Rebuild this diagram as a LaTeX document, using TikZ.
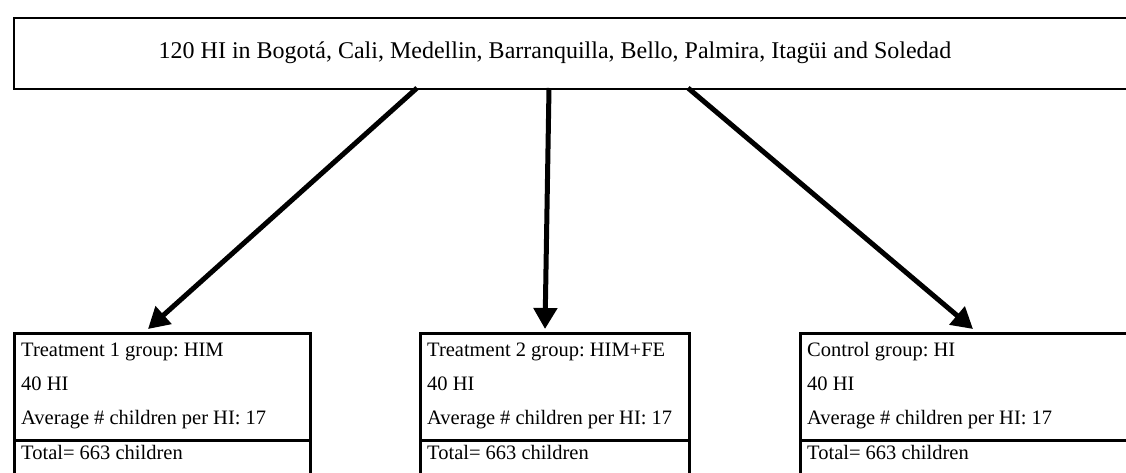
\documentclass[tikz,border=0pt]{standalone}
\usepackage{fontspec}
\setmainfont{Liberation Serif}
\usetikzlibrary{arrows.meta}
\begin{document}
\frenchspacing
\begin{tikzpicture}[x=1pt,y=-1pt,
  topbox/.style={draw=black, line width=1.6pt, rectangle, anchor=north west, inner sep=0pt},
  grpbox/.style={draw=black, line width=2.6pt, rectangle, anchor=north west, inner sep=0pt},
  grptext/.style={anchor=base west, inner sep=0pt, font=\fontsize{20.5}{24}\selectfont},
  bigarrow/.style={line width=5pt, -{Triangle[length=21pt,width=23pt]}}
]
\useasboundingbox (0,0) rectangle (1126,473);
\clip (0,0) rectangle (1126,473);
\fill[white] (0,0) rectangle (1126,473);
% top box
\node[topbox, minimum width=1140pt, minimum height=71pt] (top) at (13,17) {};
\node[inner sep=0pt, font=\fontsize{24}{28}\selectfont] (toptext) at (555,53) {120 HI in Bogotá, Cali, Medellin, Barranquilla, Bello, Palmira, Itagüi and Soledad};
% group boxes
\node[grpbox, minimum width=296pt, minimum height=107pt] (g1) at (13,332) {};
\node[grpbox, minimum width=296pt, minimum height=60pt] (g1b) at (13,439) {};
\node[grpbox, minimum width=269pt, minimum height=107pt] (g2) at (419,332) {};
\node[grpbox, minimum width=269pt, minimum height=60pt] (g2b) at (419,439) {};
\node[grpbox, minimum width=360pt, minimum height=107pt] (g3) at (799,332) {};
\node[grpbox, minimum width=360pt, minimum height=60pt] (g3b) at (799,439) {};
% texts
\node[grptext] (t1a) at (21,356) {Treatment 1 group: HIM};
\node[grptext] (t1b) at (21,390) {40 HI};
\node[grptext] (t1c) at (21,424) {Average \# children per HI: 17};
\node[grptext] (t1d) at (21,459) {Total= 663 children};
\node[grptext] (t2a) at (427,356) {Treatment 2 group: HIM+FE};
\node[grptext] (t2b) at (427,390) {40 HI};
\node[grptext] (t2c) at (427,424) {Average \# children per HI: 17};
\node[grptext] (t2d) at (427,459) {Total= 663 children};
\node[grptext] (t3a) at (807,356) {Control group: HI};
\node[grptext] (t3b) at (807,390) {40 HI};
\node[grptext] (t3c) at (807,424) {Average \# children per HI: 17};
\node[grptext] (t3d) at (807,459) {Total= 663 children};
% arrow ends
\coordinate (s1) at (417,88);
\coordinate (s2) at (549,88);
\coordinate (s3) at (688,88);
\coordinate (e1) at (148,329);
\coordinate (e2) at (545,329);
\coordinate (e3) at (973,329);
\draw[bigarrow] (s1) -- (e1);
\draw[bigarrow] (s2) -- (e2);
\draw[bigarrow] (s3) -- (e3);
\end{tikzpicture}
\end{document}
